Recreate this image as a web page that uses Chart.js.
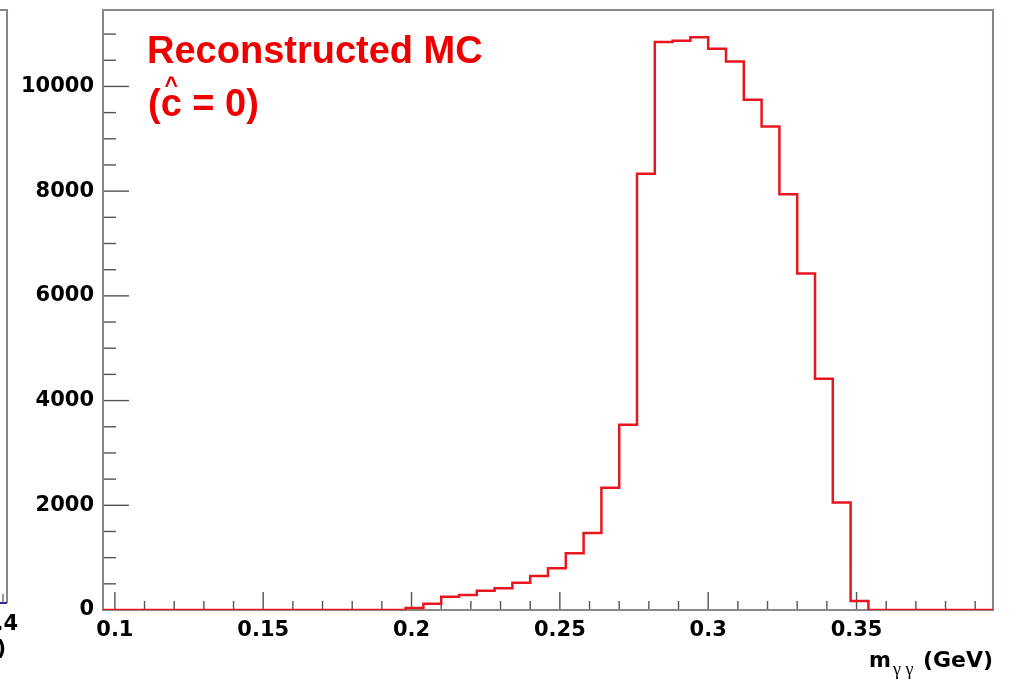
<!DOCTYPE html>
<html>
<head>
<meta charset="utf-8">
<script src="https://cdn.jsdelivr.net/npm/chart.js@4/dist/chart.umd.min.js"></script>
<style>
  html, body { margin: 0; padding: 0; background: #ffffff; }
  #wrap { width: 1016px; height: 680px; }
</style>
</head>
<body>
<div id="wrap"><canvas id="c" width="1016" height="680"></canvas></div>
<script>
// ---- data ----
const X_MIN = 0.096;
const X_MAX = 0.396;
const BIN_WIDTH = 0.006;
const counts = [
  0, 0, 0, 0, 0, 0, 0, 0, 0, 0,
  0, 0, 0, 0, 0, 0, 0, 40, 120, 255,
  285, 370, 415, 522, 650, 797, 1085, 1470, 2335, 3540,
  8330, 10850, 10875, 10940, 10720, 10475, 9745, 9236, 7943, 6425,
  4415, 2054, 172, 0, 0, 0, 0, 0, 0, 0
];
const xMajorTicks = [0.1, 0.15, 0.2, 0.25, 0.3, 0.35];
const xMinorTicks = [0.11, 0.12, 0.13, 0.14, 0.16, 0.17, 0.18, 0.19, 0.21, 0.22, 0.23, 0.24,
                     0.26, 0.27, 0.28, 0.29, 0.31, 0.32, 0.33, 0.34, 0.36, 0.37, 0.38, 0.39];
const yMajorTicks = [0, 2000, 4000, 6000, 8000, 10000];
const yMinorTicks = [500, 1000, 1500, 2500, 3000, 3500, 4500, 5000, 5500, 6500, 7000, 7500,
                     8500, 9000, 9500, 10500, 11000];
const Y_MAX = 11460;
const titleLine1 = "Reconstructed MC";
const titleLine2 = "(c = 0)";
const axisTitleMain = "m";
const axisTitleSub = "γ γ";
const axisTitleUnit = "(GeV)";

// histogram step points: left edge of each bin + closing right edge
const histPoints = counts.map((c, i) => ({ x: X_MIN + i * BIN_WIDTH, y: c }));
histPoints.push({ x: X_MAX, y: counts[counts.length - 1] });

const TICK_FONT = { family: "'DejaVu Sans'", size: 21, weight: 'bold' };
const FRAME_COLOR = '#8e8585';
const TICK_COLOR = '#555555';

const isMajor = (v, list) => list.some(m => Math.abs(m - v) < 1e-9);

const framePlugin = {
  id: 'rootFrame',
  beforeDatasetsDraw(chart) {
    const { ctx, chartArea: a, scales } = chart;
    ctx.save();
    ctx.strokeStyle = TICK_COLOR;
    ctx.lineWidth = 1.4;
    const xs = scales.x, ys = scales.y;
    xMajorTicks.concat(xMinorTicks).forEach(v => {
      const px = xs.getPixelForValue(v);
      const len = isMajor(v, xMajorTicks) ? 18 : 9;
      ctx.beginPath(); ctx.moveTo(px, a.bottom); ctx.lineTo(px, a.bottom - len); ctx.stroke();
    });
    yMajorTicks.concat(yMinorTicks).forEach(v => {
      const py = ys.getPixelForValue(v);
      const len = isMajor(v, yMajorTicks) ? 26 : 13;
      ctx.beginPath(); ctx.moveTo(a.left, py); ctx.lineTo(a.left + len, py); ctx.stroke();
    });
    ctx.strokeStyle = FRAME_COLOR;
    ctx.lineWidth = 2;
    ctx.strokeRect(a.left, a.top, a.right - a.left, a.bottom - a.top);
    ctx.restore();
  },
  afterDraw(chart) {
    const { ctx, chartArea: a } = chart;
    ctx.save();
    // red title text
    ctx.fillStyle = '#ee0000';
    ctx.textAlign = 'left';
    ctx.textBaseline = 'alphabetic';
    ctx.font = "bold 38px 'Liberation Sans'";
    ctx.fillText(titleLine1, 147, 63);
    ctx.fillText(titleLine2, 148, 116);
    const parW = ctx.measureText('(').width;
    const cW = ctx.measureText('c').width;
    ctx.font = "bold 23px 'Liberation Sans'";
    ctx.textAlign = 'center';
    ctx.fillText('^', 148 + parW + cW / 2, 93);
    // x-axis title
    ctx.fillStyle = '#000000';
    ctx.textAlign = 'left';
    ctx.font = "bold 21px 'DejaVu Sans'";
    ctx.fillText(axisTitleMain, 869, 667);
    ctx.font = "18px 'Liberation Serif'";
    ctx.fillText(axisTitleSub, 893, 675);
    ctx.font = "bold 22px 'DejaVu Sans'";
    ctx.textAlign = 'right';
    ctx.fillText(axisTitleUnit, a.right, 667);
    // cut-off neighbouring panel at the far left
    ctx.strokeStyle = FRAME_COLOR;
    ctx.lineWidth = 2;
    ctx.beginPath(); ctx.moveTo(0, a.top); ctx.lineTo(7, a.top); ctx.lineTo(7, 603); ctx.stroke();
    ctx.strokeStyle = '#2b2b9b';
    ctx.beginPath(); ctx.moveTo(0, 603); ctx.lineTo(7, 603); ctx.stroke();
    ctx.strokeStyle = TICK_COLOR;
    ctx.lineWidth = 1.2;
    ctx.beginPath(); ctx.moveTo(3, 603); ctx.lineTo(3, 594); ctx.stroke();
    ctx.fillStyle = '#000000';
    ctx.font = "bold 21px 'DejaVu Sans'";
    ctx.textAlign = 'right';
    ctx.fillText('0.4', 18, 630);
    ctx.fillText('(GeV)', 6, 655);
    ctx.restore();
  }
};

new Chart(document.getElementById('c'), {
  type: 'line',
  data: {
    datasets: [{
      data: histPoints,
      borderColor: '#e8161f',
      borderWidth: 2.5,
      pointRadius: 0,
      fill: false,
      stepped: 'before',
      tension: 0
    }]
  },
  options: {
    responsive: false,
    animation: false,
    devicePixelRatio: 1,
    layout: { padding: { top: 10, right: 23, left: 0, bottom: 0 } },
    plugins: { legend: { display: false }, tooltip: { enabled: false } },
    scales: {
      x: {
        type: 'linear',
        min: X_MIN,
        max: X_MAX,
        grid: { display: false, drawTicks: false },
        border: { display: false },
        afterBuildTicks(scale) { scale.ticks = xMajorTicks.map(v => ({ value: v })); },
        afterFit(scale) { scale.height = 70; scale.paddingLeft = 0; scale.paddingRight = 0; },
        ticks: {
          autoSkip: false, maxRotation: 0, padding: 8, color: '#000000', font: TICK_FONT,
          callback: v => String(Number(v.toFixed(3)))
        }
      },
      y: {
        type: 'linear',
        min: 0,
        max: Y_MAX,
        grid: { display: false, drawTicks: false },
        border: { display: false },
        afterBuildTicks(scale) { scale.ticks = yMajorTicks.map(v => ({ value: v })); },
        afterFit(scale) { scale.width = 103; scale.paddingTop = 0; scale.paddingBottom = 0; },
        ticks: {
          padding: 9, color: '#000000', font: TICK_FONT,
          callback: v => String(v)
        }
      }
    }
  },
  plugins: [framePlugin]
});
</script>
</body>
</html>
